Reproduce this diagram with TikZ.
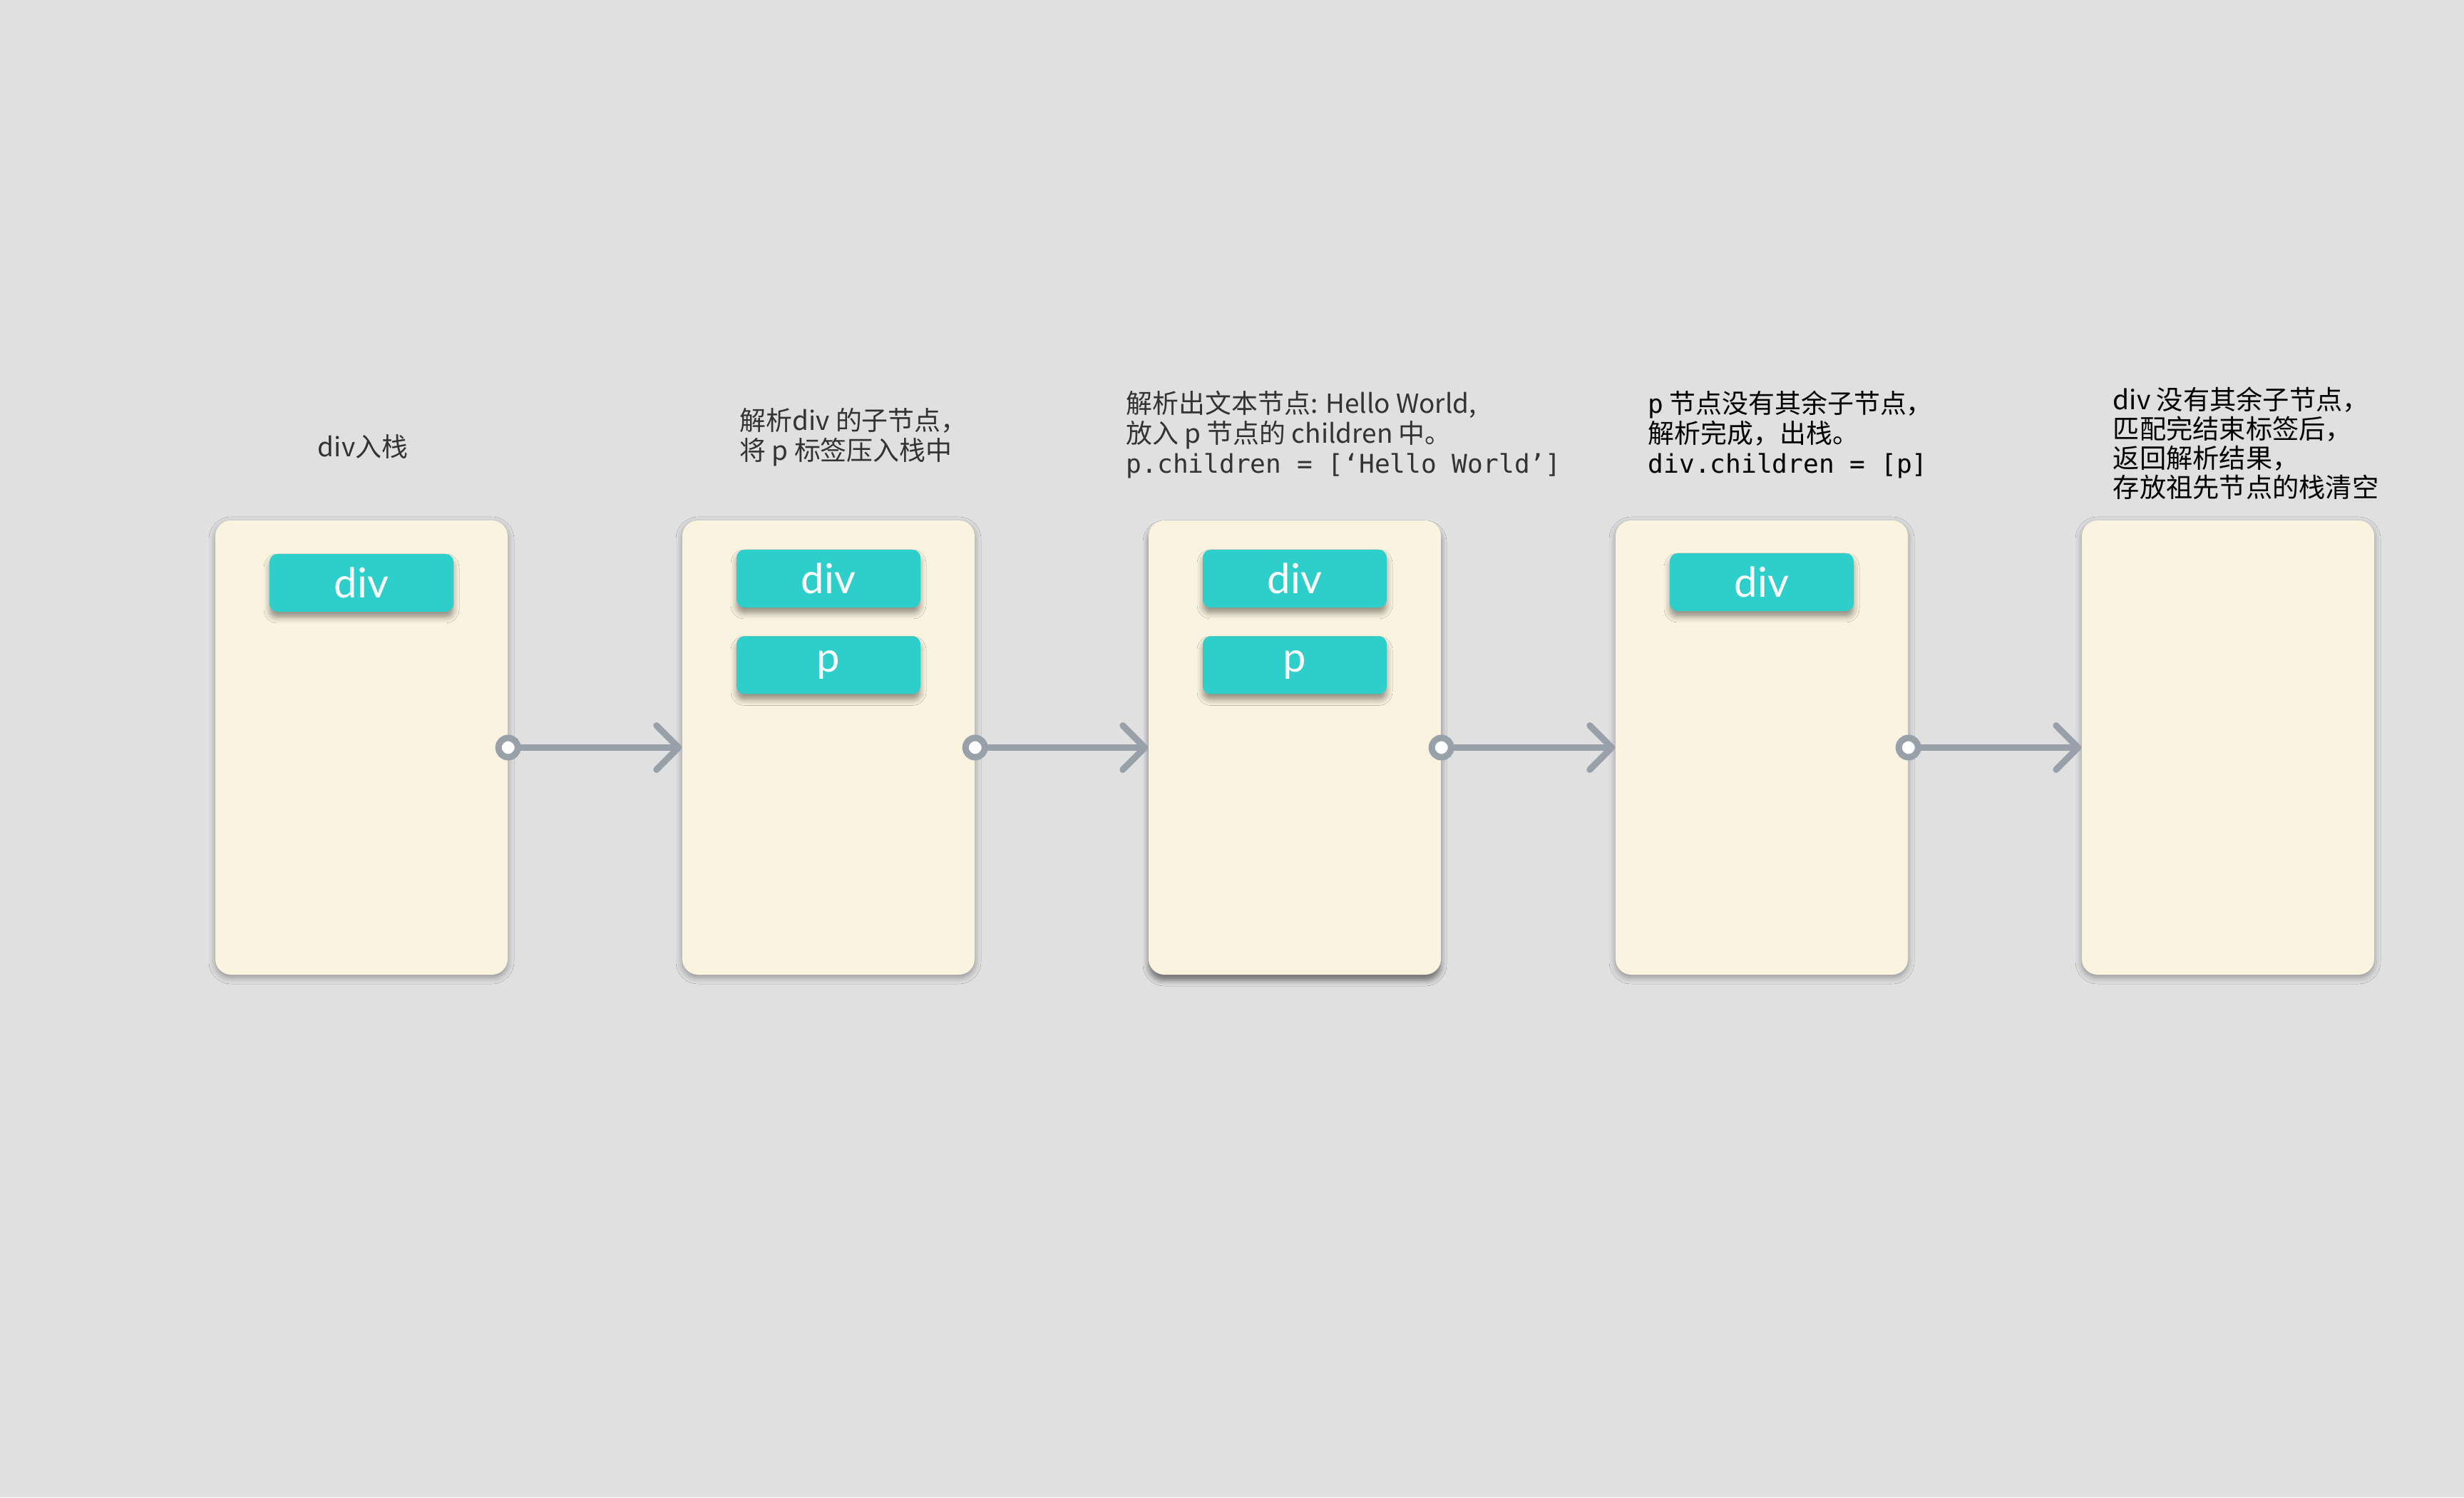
\documentclass[tikz,border=0pt]{standalone}
\usepackage{fontspec}
\setmainfont{Noto Sans CJK SC}
\newfontfamily\codefont[Scale=0.98]{DejaVu Sans Mono}
\newfontfamily\tagfont{Lato}
\usepackage{tikz}
\usetikzlibrary{positioning,arrows.meta,shadows.blur}

\definecolor{bg}{HTML}{E0E0E0}
\definecolor{cardbg}{HTML}{F9F3DF}
\definecolor{teal}{HTML}{2ECFCA}
\definecolor{wire}{HTML}{98A0AA}
\definecolor{ink}{HTML}{333333}

\begin{document}
\begin{tikzpicture}
		[
			card/.style={rectangle, rounded corners=0.22cm, fill=cardbg, minimum width=4.1cm, minimum height=6.37cm, inner sep=0pt},
			plain/.style={card, blur shadow={shadow xshift=0cm, shadow yshift=-0.04cm, shadow blur radius=0.09cm, shadow opacity=35}},
			picked/.style={card, blur shadow={shadow xshift=0cm, shadow yshift=-0.08cm, shadow blur radius=0.08cm, shadow opacity=50}},
			tag/.style={rectangle, rounded corners=0.11cm, fill=teal, minimum width=2.58cm, minimum height=0.81cm, inner sep=0pt, text=white, font=\tagfont\fontsize{16.5pt}{18pt}\selectfont, blur shadow={shadow xshift=0cm, shadow yshift=-0.08cm, shadow blur radius=0.08cm, shadow opacity=40}},
			note/.style={inner sep=0pt, align=left, anchor=west, text=ink, font=\fontsize{10.5pt}{11.95pt}\selectfont},
			arrow/.style={wire, line width=0.09cm, {Circle[length=0.36cm, width=0.36cm, fill=white]}-{Straight Barb[length=0.31cm, width=0.62cm, round]}, shorten <=-0.18cm}
		]

		% background
		\fill[bg] (0,0) rectangle (34.56,21.00);
		\useasboundingbox (0,0) rectangle (34.56,21.00);

		% cards
		\node[plain]	(c1) at (  5.07, 10.515 ) {};
		\node[plain]	(c2) at ( 11.62, 10.515 ) {};
		\node[picked]	(c3) at ( 18.16, 10.515 ) {};
		\node[plain]	(c4) at ( 24.71, 10.515 ) {};
		\node[plain]	(c5) at ( 31.25, 10.515 ) {};

		% stack items
		\node[tag, below=0.47 of c1.north] (d1) {div};
		\node[tag, below=0.41 of c2.north] (d2) {div};
		\node[tag, below=0.39 of d2] (p2) {p};
		\node[tag, below=0.41 of c3.north] (d3) {div};
		\node[tag, below=0.39 of d3] (p3) {p};
		\node[tag, below=0.46 of c4.north] (d4) {div};

		% step notes
		\node[note, anchor=center] (n1) at (  5.09, 14.74 ) {div入栈};
		\node[note] (n2) at ( 10.37, 14.865 ) {解析div 的子节点，\\将 p 标签压入栈中};
		\node[note] (n3) at ( 15.79, 14.90 ) {解析出文本节点: Hello World,\\放入 p 节点的 children 中。\\{\codefont p.children = [‘Hello World’]}};
		\node[note, text=black] (n4) at ( 23.11, 14.90 ) {{\codefont p} 节点没有其余子节点，\\解析完成，出栈。\\{\codefont div.children = [p]}};
		\node[note, text=black, font=\fontsize{10.6pt}{11.7pt}\selectfont] (n5) at ( 29.63, 14.785 ) {div 没有其余子节点，\\匹配完结束标签后，\\返回解析结果，\\存放祖先节点的栈清空};

		% transition paths
		\foreach \from/\to in {c1/c2,c2/c3,c3/c4,c4/c5}
		\draw[arrow] (\from.east) -- (\to.west);

	\end{tikzpicture}
\end{document}
